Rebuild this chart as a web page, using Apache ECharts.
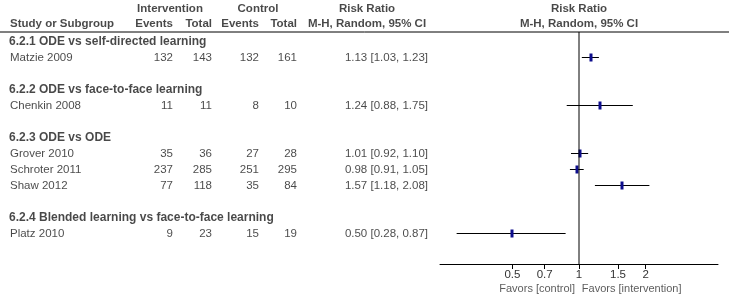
<!DOCTYPE html>
<html>
<head>
<meta charset="utf-8">
<script src="https://cdn.jsdelivr.net/npm/echarts@6/dist/echarts.min.js"></script>
<style>
  html, body { margin: 0; padding: 0; background: #fff; }
  #forest { width: 729px; height: 304px; }
</style>
</head>
<body>
<div id="forest"></div>
<script>
///////////////////////////////////////////////////
// Used data
///////////////////////////////////////////////////
var subgroups = [
  '6.2.1 ODE vs self-directed learning',
  '6.2.2 ODE vs face-to-face learning',
  '6.2.3 ODE vs ODE',
  '6.2.4 Blended learning vs face-to-face learning',
];
var subgroupRows = [0, 3, 6, 11];

var studies = ['Matzie 2009', 'Chenkin 2008', 'Grover 2010', 'Schroter 2011', 'Shaw 2012', 'Platz 2010'];
var studyRows = [1, 4, 7, 8, 9, 12];
var intEvents = [132, 11, 35, 237, 77, 9];
var intTotal = [143, 11, 36, 285, 118, 23];
var ctrlEvents = [132, 8, 27, 251, 35, 15];
var ctrlTotal = [161, 10, 28, 295, 84, 19];
var riskRatio = [1.13, 1.24, 1.01, 0.98, 1.57, 0.5];
var ciLow = [1.03, 0.88, 0.92, 0.91, 1.18, 0.28];
var ciHigh = [1.23, 1.75, 1.1, 1.05, 2.08, 0.87];

var tickValues = [0.5, 0.7, 1, 1.5, 2];

///////////////////////////////////////////////////
// Layout
///////////////////////////////////////////////////
var FONT = '"Liberation Sans", Arial, sans-serif';
var TEXT = '#1a1a1a';
var ROW_MIN = -2.5;
var ROW_MAX = 13.875;
// column anchors (pixel units of the table axis)
var COL = { name: 10, ie: 173, it: 212, ce: 259, ct: 297, ci: 428, rrHead: 367 };

function fmt(v) { return v.toFixed(2); }
function log10(v) { return Math.log(v) / Math.LN10; }

function textSeries(points, pos, bold, size) {
  return {
    type: 'scatter',
    xAxisIndex: 0,
    yAxisIndex: 0,
    symbolSize: 0,
    clip: false,
    silent: true,
    data: points,
    label: {
      show: true,
      position: pos,
      distance: 0,
      formatter: function (p) { return p.value[2]; },
      color: TEXT,
      fontFamily: FONT,
      fontSize: size || 11.5,
      fontWeight: bold ? 'bold' : 'normal',
    },
  };
}

function column(x, values) {
  return values.map(function (v, i) { return [x, studyRows[i], String(v)]; });
}

var series = [
  // header
  textSeries([[170, -2.06, 'Intervention'], [258, -2.06, 'Control'], [COL.rrHead, -2.06, 'Risk Ratio'],
    [COL.rrHead, -1.125, 'M-H, Random, 95% CI']], 'inside', true),
  textSeries([[COL.ie, -1.125, 'Events'], [COL.it, -1.125, 'Total'], [COL.ce, -1.125, 'Events'],
    [COL.ct, -1.125, 'Total']], 'left', true),
  textSeries([[COL.name, -1.125, 'Study or Subgroup']], 'right', true),
  // subgroup headings
  textSeries(subgroups.map(function (s, i) { return [COL.name - 1, subgroupRows[i], s]; }), 'right', true, 12),
  // study rows
  textSeries(studies.map(function (s, i) { return [COL.name, studyRows[i], s]; }), 'right', false),
  textSeries(column(COL.ie, intEvents), 'left', false),
  textSeries(column(COL.it, intTotal), 'left', false),
  textSeries(column(COL.ce, ctrlEvents), 'left', false),
  textSeries(column(COL.ct, ctrlTotal), 'left', false),
  textSeries(riskRatio.map(function (r, i) {
    return [COL.ci, studyRows[i], fmt(r) + ' [' + fmt(ciLow[i]) + ', ' + fmt(ciHigh[i]) + ']'];
  }), 'left', false),
  // header rule
  {
    type: 'line', xAxisIndex: 0, yAxisIndex: 0, symbol: 'none', silent: true, clip: false,
    data: [[0, -0.625], [729, -0.625]],
    lineStyle: { color: '#000', width: 1 },
  },
  // plot header
  {
    type: 'scatter', xAxisIndex: 1, yAxisIndex: 1, symbolSize: 0, clip: false, silent: true,
    data: [[0, -2.06, 'Risk Ratio'], [0, -1.125, 'M-H, Random, 95% CI']],
    label: {
      show: true, position: 'inside', formatter: function (p) { return p.value[2]; },
      color: TEXT, fontFamily: FONT, fontSize: 11.5, fontWeight: 'bold',
    },
  },
  // favours labels
  {
    type: 'scatter', xAxisIndex: 1, yAxisIndex: 1, symbolSize: 0, clip: false, silent: true,
    data: [[log10(0.96), 15.44, 'Favors [control]']],
    label: {
      show: true, position: 'left', distance: 0, formatter: function (p) { return p.value[2]; },
      color: '#333', fontFamily: FONT, fontSize: 11,
    },
  },
  {
    type: 'scatter', xAxisIndex: 1, yAxisIndex: 1, symbolSize: 0, clip: false, silent: true,
    data: [[log10(1.03), 15.44, 'Favors [intervention]']],
    label: {
      show: true, position: 'right', distance: 0, formatter: function (p) { return p.value[2]; },
      color: '#333', fontFamily: FONT, fontSize: 11,
    },
  },
  // line of no effect
  {
    type: 'line', xAxisIndex: 1, yAxisIndex: 1, symbol: 'none', silent: true, clip: false,
    data: [[0, -0.625], [0, ROW_MAX]],
    lineStyle: { color: '#000', width: 1 },
  },
  // confidence intervals and point estimates
  {
    type: 'custom', xAxisIndex: 1, yAxisIndex: 1, silent: true, clip: false,
    data: riskRatio.map(function (r, i) {
      return [log10(ciLow[i]), log10(ciHigh[i]), log10(r), studyRows[i]];
    }),
    encode: { x: [0, 1, 2], y: 3 },
    renderItem: function (params, api) {
      var lo = api.coord([api.value(0), api.value(3)]);
      var hi = api.coord([api.value(1), api.value(3)]);
      var m = api.coord([api.value(2), api.value(3)]);
      var y = Math.round(lo[1]) - 0.5;
      return {
        type: 'group',
        children: [
          { type: 'line', shape: { x1: lo[0], y1: y, x2: hi[0], y2: y }, style: { stroke: '#000', lineWidth: 1 } },
          { type: 'rect', shape: { x: Math.round(m[0]) - 1.5, y: y - 4, width: 3, height: 8 }, style: { fill: '#0d0d8c' } },
        ],
      };
    },
  },
];

var hiddenY = function (idx) {
  return {
    type: 'value', gridIndex: idx, min: ROW_MIN, max: ROW_MAX, inverse: true, show: false,
  };
};

var option = {
  animation: false,
  backgroundColor: '#fff',
  grid: [
    { left: 0, right: 0, top: 2, bottom: 40 },
    { left: 440, right: 11, top: 2, bottom: 40 },
  ],
  xAxis: [
    { type: 'value', gridIndex: 0, min: 0, max: 729, show: false },
    {
      type: 'value', gridIndex: 1, min: -0.628, max: 0.628,
      axisLine: { show: true, onZero: false, lineStyle: { color: '#000', width: 1 } },
      axisTick: { show: true, length: 5, customValues: tickValues.map(log10), lineStyle: { color: '#000' } },
      axisLabel: {
        show: true, margin: 5, customValues: tickValues.map(log10),
        color: '#333', fontFamily: FONT, fontSize: 11.5,
        formatter: function (v) { return String(Math.round(Math.pow(10, v) * 10) / 10); },
      },
      splitLine: { show: false },
    },
  ],
  yAxis: [hiddenY(0), hiddenY(1)],
  series: series,
};

var myChart = echarts.init(document.getElementById('forest'), null, { renderer: 'canvas' });
myChart.setOption(option);
</script>
</body>
</html>
